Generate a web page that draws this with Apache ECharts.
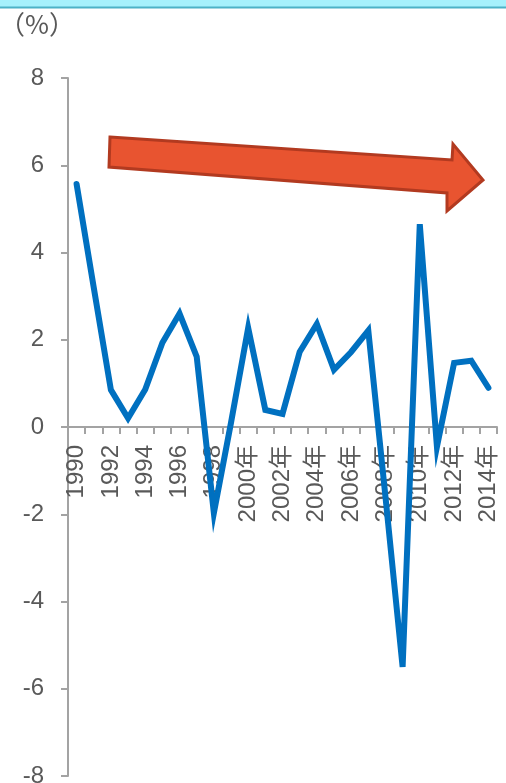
<!DOCTYPE html>
<html>
<head>
<meta charset="utf-8">
<script src="https://cdn.jsdelivr.net/npm/echarts@6/dist/echarts.min.js"></script>
<style>
  html, body { margin: 0; padding: 0; background: #ffffff; }
  #chart { width: 506px; height: 783px; }
</style>
</head>
<body>
<div id="chart"></div>
<script>
// Annual growth rate (%), 1990–2014
const years = [
  '1990', '1991', '1992', '1993', '1994', '1995', '1996', '1997', '1998', '1999',
  '2000年', '2001年', '2002年', '2003年', '2004年', '2005年', '2006年', '2007年',
  '2008年', '2009年', '2010年', '2011年', '2012年', '2013年', '2014年'
];
const growth = [
  5.57, 3.2, 0.85, 0.2, 0.86, 1.93, 2.6, 1.61, -1.97, 0.1,
  2.27, 0.39, 0.3, 1.72, 2.36, 1.31, 1.72, 2.21,
  -1.6, -5.5, 4.65, -0.45, 1.47, 1.52, 0.9
];
const yTicks = { min: -8, max: 8, step: 2 };
const unitLabel = '（%）';

const axisGray = '#A3A3A3';
const textGray = '#595959';
const fontStack = '"Liberation Sans", Arial, "Noto Sans CJK JP", sans-serif';

const gridTop = 78;
const gridBottom = 7;
const chartH = 783;
const plotH = chartH - gridTop - gridBottom;
// shift the category axis up from the grid bottom to the zero line
const zeroOffset = -plotH * (0 - yTicks.min) / (yTicks.max - yTicks.min);

const chart = echarts.init(document.getElementById('chart'), null, { renderer: 'canvas' });

chart.setOption({
  animation: false,
  backgroundColor: '#ffffff',
  grid: {
    left: 68, right: 9, top: gridTop, bottom: gridBottom,
    containLabel: false, outerBoundsMode: 'none'
  },
  xAxis: {
    type: 'category',
    data: years,
    boundaryGap: true,
    position: 'bottom',
    offset: zeroOffset,
    axisLine: { show: true, onZero: false, lineStyle: { color: axisGray, width: 2 } },
    axisTick: { show: true, interval: 0, length: 7, inside: false, lineStyle: { color: axisGray, width: 2 } },
    axisLabel: {
      interval: 1,
      rotate: 90,
      margin: 18,
      color: textGray,
      fontSize: 24,
      fontFamily: fontStack
    },
    splitLine: { show: false }
  },
  yAxis: {
    type: 'value',
    min: yTicks.min,
    max: yTicks.max,
    interval: yTicks.step,
    axisLine: { show: true, lineStyle: { color: axisGray, width: 2 } },
    axisTick: { show: true, length: 7, inside: false, lineStyle: { color: axisGray, width: 2 } },
    axisLabel: {
      margin: 24,
      color: textGray,
      fontSize: 24,
      fontFamily: fontStack
    },
    splitLine: { show: false }
  },
  series: [{
    type: 'line',
    data: growth,
    symbol: 'none',
    z: 5,
    lineStyle: { color: '#0070C0', width: 6, cap: 'round', join: 'miter' }
  }],
  graphic: [
    // header strip
    {
      type: 'rect',
      shape: { x: 0, y: 0, width: 506, height: 7 },
      style: { fill: '#A6F1FC' },
      z: 10
    },
    {
      type: 'line',
      shape: { x1: 0, y1: 7.5, x2: 506, y2: 7.5 },
      style: { stroke: '#4DB2C6', lineWidth: 2 },
      z: 10
    },
    // unit label
    {
      type: 'text',
      x: -1,
      y: 11,
      style: {
        text: unitLabel,
        fill: textGray,
        fontSize: 26,
        fontFamily: '"Noto Sans CJK JP", "Noto Sans CJK SC", sans-serif',
        textVerticalAlign: 'top'
      },
      z: 10
    },
    // downward trend arrow
    {
      type: 'polygon',
      shape: {
        points: [
          [110, 137], [452, 160], [453, 144], [483, 180],
          [447, 211], [447, 193], [109, 167]
        ]
      },
      style: { fill: '#E85430', stroke: '#B23A20', lineWidth: 3, lineJoin: 'miter' },
      z: 10
    }
  ]
});
</script>
</body>
</html>
